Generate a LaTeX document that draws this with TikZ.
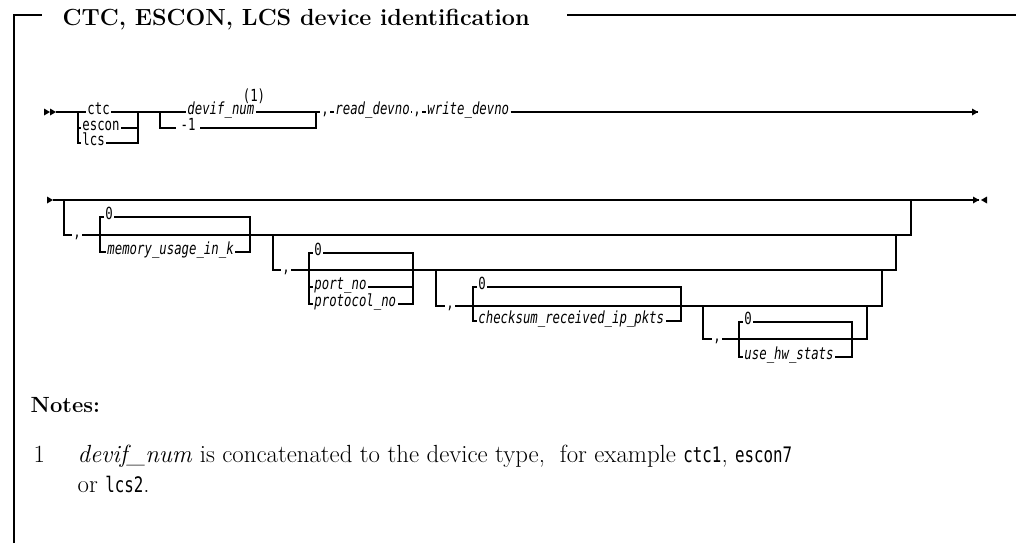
\documentclass[tikz,border=0pt]{standalone}
\usepackage{fontspec}
\setmonofont{DejaVu Sans Mono}[FakeStretch=0.74]
\usetikzlibrary{positioning}
\newcommand{\railfont}{\ttfamily\fontsize{12.5}{14}\selectfont}
\newcommand{\notefont}{\fontsize{18.6}{22}\selectfont}
\newcommand{\notemono}{\ttfamily\fontsize{16}{22}\selectfont}
\tikzset{
  kw/.style={font=\railfont, inner sep=0.6pt, anchor=mid west},
  var/.style={kw, font=\railfont\itshape},
  frame/.style={line width=0.8pt},
  notetext/.style={font=\notefont, anchor=base west, inner sep=0pt},
}
\begin{document}
\begin{tikzpicture}[x=0.75pt, y=-0.75pt, line width=1pt]
\useasboundingbox (0,0) rectangle (1016,543);
\node[font=\fontsize{17.5}{20}\selectfont\bfseries, anchor=base west, inner sep=0pt] (ttl) at (62,25) {CTC, ESCON, LCS device identification};
\coordinate (fa) at (14,543);
\coordinate (fb) at (14,15);
\coordinate (fc) at (42,15);
\coordinate (fe) at (567,15);
\coordinate (fd) at (1016,15);
\draw[frame] (fa) -- (fb) -- (fc);
\draw[frame] (fe) -- (fd);

% first line
\coordinate (s1) at (56,112);
\fill (s1) -- ++(-6,-3.5) -- ++(0,7) -- cycle;
\fill (s1) ++(-6,0) -- ++(-6,-3.5) -- ++(0,7) -- cycle;
\coordinate (b1) at (78,112);
\coordinate (b2) at (138,112);
\node[kw] (ctc) at (86,112) {ctc};
\node[kw] (escon) at (81,128) {escon};
\node[kw] (lcs) at (81,143) {lcs};
\draw (s1) -- (b1) -- (ctc.mid west);
\draw (ctc.mid east) -- (b2);
\draw (b1) |- (escon.mid west);
\draw (b1) |- (lcs.mid west);
\draw (escon.mid east) -| (b2);
\draw (lcs.mid east) -| (b2);

\coordinate (c1) at (160,112);
\coordinate (c2) at (316,112);
\node[var] (devif) at (186,112) {devif\_num};
\node[kw, anchor=center] (fn1) at (254,96) {(1)};
\node[kw, inner xsep=3pt] (minus) at (176,128) {-1};
\draw (b2) -- (c1) -- (devif.mid west);
\draw (devif.mid east) -- (c2);
\draw (c1) |- (minus.mid west);
\draw (minus.mid east) -| (c2);

\node[kw] (cm1) at (320,112) {,};
\node[var] (rdev) at (334,112) {read\_devno};
\node[kw] (cm2) at (412,112) {,};
\node[var] (wdev) at (426,112) {write\_devno};
\coordinate (e1) at (978,112);
\draw (c2) -- (cm1.mid west);
\draw (cm1.mid east) -- (rdev.mid west);
\draw (rdev.mid east) -- (cm2.mid west);
\draw (cm2.mid east) -- (wdev.mid west);
\draw (wdev.mid east) -- (e1);
\fill (e1) -- ++(-6,-3.5) -- ++(0,7) -- cycle;

% second line
\coordinate (s2) at (53,200);
\coordinate (e2) at (979,200);
\fill (s2) -- ++(-6,-3.5) -- ++(0,7) -- cycle;
\draw (s2) -- (e2);
\fill (e2) -- ++(-6,-3.5) -- ++(0,7) -- cycle;
\fill (e2) ++(2,0) -- ++(6,-3.5) -- ++(0,7) -- cycle;

\coordinate (d1) at (64,200);
\coordinate (r1) at (911,200);
\node[kw] (cm3) at (72,235) {,};
\draw (d1) |- (cm3.mid west);
\draw (cm3.mid east) -| (r1);

\coordinate (m1) at (100,235);
\coordinate (m2) at (250,235);
\node[kw] (zero1) at (104,217) {0};
\node[var] (mem) at (106,252) {memory\_usage\_in\_k};
\draw (zero1.mid west) -| (m1) |- (mem.mid west);
\draw (zero1.mid east) -| (m2) |- (mem.mid east);

\coordinate (d2) at (273,235);
\coordinate (r2) at (896,235);
\node[kw] (cm4) at (281,270) {,};
\draw (d2) |- (cm4.mid west);
\draw (cm4.mid east) -| (r2);

\coordinate (p1) at (309,270);
\coordinate (p2) at (413,270);
\node[kw] (zero2) at (313,253) {0};
\node[var] (port) at (313,287) {port\_no};
\node[var] (proto) at (313,304) {protocol\_no};
\draw (zero2.mid west) -| (p1) |- (proto.mid west);
\draw (p1) |- (port.mid west);
\draw (zero2.mid east) -| (p2) |- (proto.mid east);
\draw (port.mid east) -| (p2);

\coordinate (d3) at (436,270);
\coordinate (r3) at (882,270);
\node[kw] (cm5) at (445,306) {,};
\draw (d3) |- (cm5.mid west);
\draw (cm5.mid east) -| (r3);

\coordinate (k1) at (473,306);
\coordinate (k2) at (681,306);
\node[kw] (zero3) at (477,287) {0};
\node[var] (chk) at (477,321) {checksum\_received\_ip\_pkts};
\draw (zero3.mid west) -| (k1) |- (chk.mid west);
\draw (zero3.mid east) -| (k2) |- (chk.mid east);

\coordinate (d4) at (703,306);
\coordinate (r4) at (867,306);
\node[kw] (cm6) at (712,339) {,};
\draw (d4) |- (cm6.mid west);
\draw (cm6.mid east) -| (r4);

\coordinate (u1) at (739,339);
\coordinate (u2) at (852,339);
\node[kw] (zero4) at (743,322) {0};
\node[var] (hw) at (743,357) {use\_hw\_stats};
\draw (zero4.mid west) -| (u1) |- (hw.mid west);
\draw (zero4.mid east) -| (u2) |- (hw.mid east);

% notes
\node[notetext, font=\fontsize{16.5}{18}\selectfont\bfseries] (notes) at (30,412) {Notes:};
\node[notetext] (num1) at (33,462) {1};
\node[notetext] (note1a) at (77,462) {\textit{devif\_num} is concatenated to the device type,\ \ for example {\notemono ctc1}, {\notemono escon7}};
\node[notetext] (note1b) at (77,492) {or {\notemono lcs2}.};
\end{tikzpicture}
\end{document}
